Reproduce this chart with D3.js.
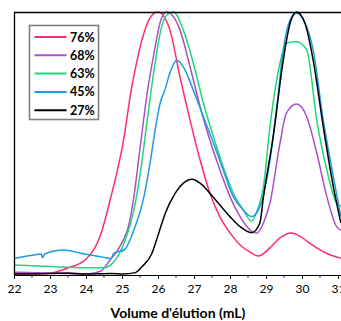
<!DOCTYPE html>
<html><head><meta charset="utf-8">
<script src="https://cdn.jsdelivr.net/npm/d3@7"></script>
<style>html,body{margin:0;padding:0;background:#fff;}svg{display:block;}</style>
</head><body>
<script>
const seriesNames = ["76%", "68%", "63%", "45%", "27%"];
const seriesColors = ["#ff2e6a", "#a94fc8", "#1fd77a", "#1a9de0", "#000000"];
const xTicks = [22, 23, 24, 25, 26, 27, 28, 29, 30, 31];
const xLabel = "Volume d'élution (mL)";

// [volume (mL), normalized absorbance]
const s76 = [[22,0.006],[22.5,0.005],[23,0.007],[23.46,0.025],[24.02,0.063],[24.39,0.146],[24.67,0.285],[25.06,0.526],[25.24,0.691],[25.42,0.817],[25.61,0.92],[25.8,0.982],[26.0,1.0],[26.33,0.932],[26.61,0.753],[26.89,0.589],[27.17,0.437],[27.44,0.312],[27.72,0.221],[28.0,0.16],[28.28,0.114],[28.56,0.087],[28.78,0.072],[29.11,0.103],[29.39,0.141],[29.71,0.16],[29.94,0.148],[30.17,0.125],[30.41,0.103],[30.72,0.08],[31.08,0.064]];
const s68 = [[22,0.01],[23,0.008],[24,0.004],[24.39,0.013],[24.67,0.057],[24.94,0.108],[25.22,0.209],[25.33,0.298],[25.52,0.502],[25.7,0.692],[25.89,0.844],[26.08,0.97],[26.24,1.0],[26.61,0.932],[26.89,0.792],[27.17,0.64],[27.44,0.513],[27.72,0.399],[28.0,0.298],[28.28,0.222],[28.56,0.171],[28.74,0.159],[28.93,0.198],[29.11,0.274],[29.39,0.502],[29.57,0.616],[29.85,0.65],[30.13,0.602],[30.41,0.464],[30.69,0.298],[30.96,0.184],[31.08,0.171]];
const s63 = [[22,0.038],[23,0.032],[24,0.028],[24.5,0.028],[24.78,0.051],[25.06,0.122],[25.33,0.247],[25.52,0.399],[25.7,0.589],[25.89,0.779],[26.08,0.932],[26.22,0.985],[26.43,1.0],[26.7,0.932],[26.98,0.806],[27.26,0.654],[27.54,0.526],[27.81,0.412],[28.09,0.312],[28.37,0.247],[28.6,0.205],[28.74,0.24],[28.93,0.336],[29.11,0.564],[29.39,0.806],[29.57,0.882],[29.85,0.887],[30.13,0.856],[30.41,0.589],[30.69,0.399],[30.96,0.274],[31.08,0.262]];
const s45 = [[22,0.063],[22.56,0.076],[22.75,0.08],[22.8,0.066],[22.85,0.08],[23.39,0.095],[23.85,0.083],[24.5,0.067],[24.69,0.063],[24.78,0.084],[25.06,0.095],[25.33,0.171],[25.61,0.298],[25.78,0.426],[25.92,0.551],[26.06,0.654],[26.19,0.703],[26.33,0.768],[26.52,0.817],[26.7,0.792],[26.98,0.703],[27.26,0.602],[27.54,0.502],[27.81,0.399],[28.09,0.298],[28.37,0.247],[28.6,0.222],[28.83,0.26],[29.11,0.437],[29.3,0.64],[29.48,0.856],[29.67,0.97],[29.85,0.996],[30.04,0.97],[30.31,0.856],[30.59,0.589],[30.87,0.374],[31.08,0.222]];
const s27 = [[22,0.004],[23,0.006],[23.5,0.008],[24,0.004],[24.7,0.006],[25.03,0.004],[25.37,0.009],[25.56,0.032],[25.83,0.082],[26.02,0.159],[26.2,0.234],[26.48,0.311],[26.76,0.355],[26.94,0.364],[27.17,0.349],[27.44,0.311],[27.72,0.266],[28.0,0.222],[28.28,0.184],[28.6,0.161],[28.83,0.198],[28.93,0.298],[29.2,0.526],[29.48,0.817],[29.67,0.958],[29.85,1.0],[30.08,0.958],[30.31,0.817],[30.59,0.564],[30.87,0.336],[31.08,0.198]];
const allSeries = [s76, s68, s63, s45, s27];

const W = 341, H = 321;
const L = 14, T = 12, B = 275;
const svg = d3.select("body").append("svg").attr("width", W).attr("height", H);
const x = d3.scaleLinear().domain([22, 32]).range([L, L + 360]);
const y = d3.scaleLinear().domain([0, 1]).range([B, T]);

svg.append("defs").append("clipPath").attr("id", "clip")
  .append("rect").attr("x", L).attr("y", T - 1).attr("width", W - L).attr("height", B - T + 1);

const line = d3.line().x(d => x(d[0])).y(d => y(d[1])).curve(d3.curveMonotoneX);
const g = svg.append("g").attr("clip-path", "url(#clip)");
allSeries.forEach((s, i) => {
  g.append("path").datum(s).attr("d", line).attr("fill", "none")
    .attr("stroke", seriesColors[i]).attr("stroke-width", 1.5).attr("stroke-linejoin", "round");
});

// frame
svg.append("line").attr("x1", L).attr("x2", W).attr("y1", T + 0.5).attr("y2", T + 0.5).attr("stroke", "#000").attr("stroke-width", 1.3);
svg.append("line").attr("x1", L + 0.5).attr("x2", L + 0.5).attr("y1", T).attr("y2", B).attr("stroke", "#000").attr("stroke-width", 1.3);

// x axis
const minor = d3.range(22.5, 32, 1);
const ax = svg.append("g").attr("transform", `translate(0,${B})`)
  .call(d3.axisBottom(x).tickValues(xTicks).tickSize(4).tickSizeOuter(0).tickPadding(5).tickFormat(d3.format("d")));
ax.select(".domain").attr("stroke", "#000").attr("stroke-width", 1.2);
ax.selectAll("text").attr("font-family", "Lato, 'Open Sans', sans-serif").attr("font-size", 12).attr("fill", "#000");
svg.append("g").attr("transform", `translate(0,${B})`).selectAll("line").data(minor).join("line")
  .attr("x1", d => x(d)).attr("x2", d => x(d)).attr("y1", 0).attr("y2", 2.5).attr("stroke", "#000");

svg.append("text").attr("x", 178).attr("y", 318).attr("text-anchor", "middle")
  .attr("font-family", "Lato, 'Open Sans', sans-serif").attr("font-weight", "bold").attr("font-size", 14)
  .text(xLabel);

// legend
const lg = svg.append("g");
lg.append("rect").attr("x", 29.5).attr("y", 25.5).attr("width", 69).attr("height", 94)
  .attr("fill", "#fff").attr("stroke", "#7f7f7f").attr("stroke-width", 1.6);
seriesNames.forEach((n, i) => {
  const yy = 37 + i * 18.3;
  lg.append("line").attr("x1", 34.5).attr("x2", 66.5).attr("y1", yy).attr("y2", yy)
    .attr("stroke", seriesColors[i]).attr("stroke-width", 2);
  lg.append("text").attr("x", 70).attr("y", yy + 4.5).attr("font-family", "Lato, 'Open Sans', sans-serif")
    .attr("font-weight", "bold").attr("font-size", 12.5).text(n);
});
</script>
</body></html>
